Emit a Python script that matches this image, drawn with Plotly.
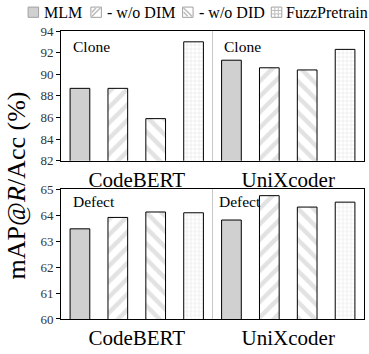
import plotly.graph_objects as go

categories = ["CodeBERT", "UniXcoder"]
series_names = ["MLM", "- w/o DIM", "- w/o DID", "FuzzPretrain"]

clone_mlm = [88.7, 91.3]
clone_dim = [88.7, 90.6]
clone_did = [85.9, 90.4]
clone_fuzz = [93.0, 92.3]

defect_mlm = [63.48, 63.82]
defect_dim = [63.92, 64.76]
defect_did = [64.13, 64.32]
defect_fuzz = [64.10, 64.51]

clone_ticks = [82, 84, 86, 88, 90, 92, 94]
defect_ticks = [60, 61, 62, 63, 64, 65]

W, H = 369, 354
ML, MR, MT, MB = 61, 4, 31, 28
PW, PH = W - ML - MR, H - MT - MB

FONT = "Liberation Serif"
GRAY = "#c6c6c6"

styles = [
    dict(color="#d0d0d0"),
    dict(color="white", pattern=dict(shape="/", fgcolor=GRAY, bgcolor="white", size=11, solidity=0.4)),
    dict(color="white", pattern=dict(shape="\\", fgcolor=GRAY, bgcolor="white", size=11, solidity=0.4)),
    dict(color="white", pattern=dict(shape="+", fgcolor=GRAY, bgcolor="white", size=4, solidity=0.25)),
]

fig = go.Figure()
panels = [
    ("x", "y", [clone_mlm, clone_dim, clone_did, clone_fuzz]),
    ("x2", "y2", [defect_mlm, defect_dim, defect_did, defect_fuzz]),
]
for xa, ya, vals in panels:
    for name, v, st in zip(series_names, vals, styles):
        fig.add_trace(go.Bar(
            x=categories, y=v, name=name, xaxis=xa, yaxis=ya,
            marker=dict(line=dict(color="black", width=1), **st),
            showlegend=False, hoverinfo="skip",
        ))

def px_x(p):
    return (p - ML) / PW

def px_y(p):
    return 1 - (p - MT) / PH

top_bottom = 164
low_top = 193.3

axis_common = dict(showline=True, linecolor="black", linewidth=1, mirror=True)
xcommon = dict(axis_common, type="category", range=[-0.5, 1.5], tickson="boundaries",
               showgrid=True, gridcolor="#c8c8c8", gridwidth=1, ticks="",
               tickfont=dict(family=FONT, size=21, color="black"))
ycommon = dict(axis_common, ticks="outside", ticklen=4, tickcolor="black", showgrid=False,
               tickfont=dict(family=FONT, size=13, color="#333333"), zeroline=False)

fig.update_layout(
    width=W, height=H,
    margin=dict(l=ML, r=MR, t=MT, b=MB),
    paper_bgcolor="white", plot_bgcolor="white",
    font=dict(family=FONT),
    barmode="group", bargap=0, bargroupgap=0.48,
    showlegend=False,
    xaxis=dict(xcommon, anchor="y", domain=[0, 1]),
    yaxis=dict(ycommon, anchor="x", domain=[px_y(top_bottom), 1], range=[82, 94],
               tickvals=clone_ticks),
    xaxis2=dict(xcommon, anchor="y2", domain=[0, 1]),
    yaxis2=dict(ycommon, anchor="x2", domain=[0, px_y(low_top)], range=[60, 65],
                tickvals=defect_ticks),
)

ann = []
for text, xp, yp in [("Clone", 71, 47), ("Clone", 223, 47), ("Defect", 71, 206), ("Defect", 218, 206)]:
    ann.append(dict(text=text, x=px_x(xp), y=px_y(yp), xref="paper", yref="paper",
                    xanchor="left", yanchor="middle", showarrow=False,
                    font=dict(family=FONT, size=15.5, color="black")))
ann.append(dict(text="mAP@<i>R</i>/Acc (%)", x=px_x(16), y=px_y(189), xref="paper", yref="paper",
                xanchor="center", yanchor="middle", textangle=-90, showarrow=False,
                font=dict(family=FONT, size=26, color="black")))

legend_items = [(28, 42), (91, 105), (183, 197), (272, 285)]
shapes = []
sy0, sy1 = 6.5, 17
for (sx, tx), name, st in zip(legend_items, series_names, styles):
    ann.append(dict(text=name, x=px_x(tx), y=px_y(12), xref="paper", yref="paper",
                    xanchor="left", yanchor="middle", showarrow=False,
                    font=dict(family=FONT, size=16, color="black")))
    fill = st["color"]
    shapes.append(dict(type="rect", xref="paper", yref="paper",
                       x0=px_x(sx), x1=px_x(sx + 10.5), y0=px_y(sy1), y1=px_y(sy0),
                       fillcolor=fill, line=dict(color="#a0a0a0", width=1)))
    lc = dict(color="#bdbdbd", width=1.5)
    if name == "- w/o DIM":
        shapes.append(dict(type="line", xref="paper", yref="paper",
                           x0=px_x(sx + 1), y0=px_y(sy1 - 1), x1=px_x(sx + 9.5), y1=px_y(sy0 + 1), line=lc))
        shapes.append(dict(type="line", xref="paper", yref="paper",
                           x0=px_x(sx + 1), y0=px_y(sy1 - 5), x1=px_x(sx + 5), y1=px_y(sy0 + 1), line=lc))
    elif name == "- w/o DID":
        shapes.append(dict(type="line", xref="paper", yref="paper",
                           x0=px_x(sx + 1), y0=px_y(sy0 + 1), x1=px_x(sx + 9.5), y1=px_y(sy1 - 1), line=lc))
        shapes.append(dict(type="line", xref="paper", yref="paper",
                           x0=px_x(sx + 1), y0=px_y(sy0 + 5), x1=px_x(sx + 5), y1=px_y(sy1 - 1), line=lc))
    elif name == "FuzzPretrain":
        for d in (3.5, 7):
            shapes.append(dict(type="line", xref="paper", yref="paper",
                               x0=px_x(sx + d), y0=px_y(sy0), x1=px_x(sx + d), y1=px_y(sy1), line=dict(color="#bdbdbd", width=1)))
            shapes.append(dict(type="line", xref="paper", yref="paper",
                               x0=px_x(sx), y0=px_y(sy0 + d), x1=px_x(sx + 10.5), y1=px_y(sy0 + d), line=dict(color="#bdbdbd", width=1)))

fig.update_layout(annotations=ann, shapes=shapes)
fig.write_html("out.html", config={"displayModeBar": False, "staticPlot": True},
               post_script="document.body.style.margin='0';document.body.style.overflow='hidden';")
